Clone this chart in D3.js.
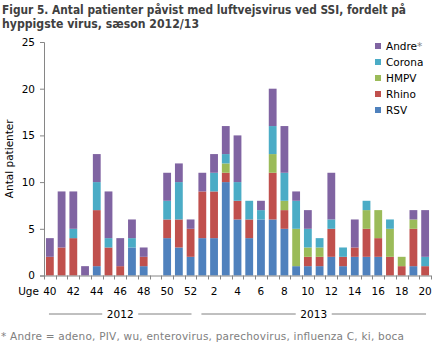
<!DOCTYPE html>
<html>
<head>
<meta charset="utf-8">
<script src="https://cdn.jsdelivr.net/npm/d3@7"></script>
<style>
  body { margin: 0; background: #fff; }
  svg { font-family: "DejaVu Sans", Verdana, sans-serif; }
</style>
</head>
<body>
<div id="chart"></div>
<script>
const width = 440;
const height = 351;
const margin = {top: 42, right: 9, bottom: 75.5, left: 44};

// weeks of season 2012/13
const weeks = [40, 41, 42, 43, 44, 45, 46, 47, 48, 49, 50, 51, 52,
               1, 2, 3, 4, 5, 6, 7, 8, 9, 10, 11, 12, 13, 14, 15, 16, 17, 18, 19, 20];
const tickWeeks = [40, 42, 44, 46, 48, 50, 52, 2, 4, 6, 8, 10, 12, 14, 16, 18, 20];

const rsv    = [0, 0, 0, 0, 1, 0, 0, 3, 1, 0, 4, 3, 2, 4, 4, 10, 6, 4, 6, 6, 5, 1, 1, 1, 2, 1, 2, 2, 2, 0, 0, 1, 0];
const rhino  = [2, 3, 4, 0, 6, 3, 1, 0, 1, 0, 2, 3, 3, 5, 5, 1, 2, 2, 0, 5, 2, 0, 1, 1, 3, 1, 1, 3, 2, 2, 1, 4, 1];
const hmpv   = [0, 0, 0, 0, 0, 0, 0, 0, 0, 0, 0, 0, 0, 0, 0, 1, 0, 0, 0, 2, 1, 4, 1, 1, 0, 0, 0, 2, 3, 3, 1, 1, 0];
const corona = [0, 0, 1, 0, 3, 1, 0, 1, 0, 0, 2, 4, 0, 0, 2, 1, 2, 2, 1, 3, 3, 3, 2, 1, 1, 1, 0, 1, 0, 1, 0, 0, 1];
const andre  = [2, 6, 4, 1, 3, 5, 3, 2, 1, 0, 3, 2, 1, 2, 2, 3, 5, 0, 1, 4, 5, 1, 2, 0, 5, 0, 3, 0, 0, 0, 0, 1, 5];

const seriesNames = ["RSV", "Rhino", "HMPV", "Corona", "Andre*"];
const seriesValues = [rsv, rhino, hmpv, corona, andre];
const colors = ["#4F81BD", "#C0504D", "#9BBB59", "#4BACC6", "#8064A2"];

const years = [
  {label: "2012", from: 40, to: 52},
  {label: "2013", from: 1, to: 20}
];

const table = weeks.map((w, i) => {
  const row = {week: w};
  seriesNames.forEach((s, j) => row[s] = seriesValues[j][i]);
  return row;
});

const svg = d3.select("#chart")
  .append("svg")
  .attr("width", width)
  .attr("height", height);

// title, squeezed to the width it has in the original
svg.append("text")
  .attr("x", 2).attr("y", 14)
  .attr("font-size", "11.5px").attr("font-weight", "bold").attr("fill", "#404040")
  .attr("textLength", 404).attr("lengthAdjust", "spacingAndGlyphs")
  .text("Figur 5. Antal patienter påvist med luftvejsvirus ved SSI, fordelt på");
svg.append("text")
  .attr("x", 2).attr("y", 28)
  .attr("font-size", "11.5px").attr("font-weight", "bold").attr("fill", "#404040")
  .attr("textLength", 197).attr("lengthAdjust", "spacingAndGlyphs")
  .text("hyppigste virus, sæson 2012/13");

const x = d3.scaleBand()
  .domain(weeks)
  .range([margin.left, width - margin.right])
  .paddingInner(1 / 3)
  .paddingOuter(1 / 6);

const y = d3.scaleLinear()
  .domain([0, 25])
  .range([height - margin.bottom, margin.top]);

const stack = d3.stack().keys(seriesNames);
const layers = stack(table);

svg.append("g")
  .selectAll("g")
  .data(layers)
  .enter()
  .append("g")
  .attr("fill", (d, i) => colors[i])
  .selectAll("rect")
  .data(d => d)
  .enter()
  .append("rect")
  .attr("x", d => x(d.data.week))
  .attr("y", d => y(d[1]))
  .attr("width", x.bandwidth())
  .attr("height", d => y(d[0]) - y(d[1]));

const axisColor = "#868686";

// y axis
const yAxis = svg.append("g")
  .attr("transform", "translate(" + margin.left + ",0)")
  .call(d3.axisLeft(y).tickValues([0, 5, 10, 15, 20, 25]).tickSize(4).tickPadding(5));
yAxis.select(".domain").attr("stroke", axisColor);
yAxis.selectAll(".tick line").attr("stroke", axisColor);
yAxis.selectAll("text").attr("font-size", "10.5px").attr("fill", "#000")
  .attr("font-family", "DejaVu Sans, sans-serif");

svg.append("text")
  .attr("transform", "translate(13," + (y(12.5)) + ") rotate(-90)")
  .attr("text-anchor", "middle")
  .attr("font-size", "10.5px")
  .text("Antal patienter");

// x axis: line, boundary ticks and labels
const step = x.step();
const y0 = y(0);
svg.append("line")
  .attr("x1", margin.left).attr("x2", width - margin.right)
  .attr("y1", y0 + 0.5).attr("y2", y0 + 0.5)
  .attr("stroke", axisColor);
svg.append("g")
  .selectAll("line")
  .data(d3.range(weeks.length + 1))
  .enter()
  .append("line")
  .attr("x1", i => Math.round(margin.left + i * step) + 0.5)
  .attr("x2", i => Math.round(margin.left + i * step) + 0.5)
  .attr("y1", y0)
  .attr("y2", y0 + 4)
  .attr("stroke", axisColor);

svg.append("g")
  .selectAll("text")
  .data(tickWeeks)
  .enter()
  .append("text")
  .attr("x", d => x(d) + x.bandwidth() / 2)
  .attr("y", y0 + 19)
  .attr("text-anchor", "middle")
  .attr("font-size", "10.5px")
  .text(d => d);

svg.append("text")
  .attr("x", 39).attr("y", y0 + 19)
  .attr("text-anchor", "end")
  .attr("font-size", "10.5px")
  .text("Uge");

// year brackets
years.forEach(yr => {
  const x1 = x(yr.from);
  const x2 = x(yr.to) + x.bandwidth();
  const cx = (x1 + x2) / 2;
  const ly = y0 + 38;
  svg.append("text")
    .attr("x", cx).attr("y", ly + 4)
    .attr("text-anchor", "middle")
    .attr("font-size", "10.5px")
    .text(yr.label);
  svg.append("line")
    .attr("x1", x1 + 3).attr("x2", cx - 18)
    .attr("y1", ly + 0.5).attr("y2", ly + 0.5)
    .attr("stroke", "#808080");
  svg.append("line")
    .attr("x1", cx + 18).attr("x2", x2 - 3)
    .attr("y1", ly + 0.5).attr("y2", ly + 0.5)
    .attr("stroke", "#808080");
});

// legend (top to bottom: Andre first)
const legendItems = seriesNames.map((s, i) => ({name: s, color: colors[i]})).reverse();
const legend = svg.append("g")
  .selectAll("g")
  .data(legendItems)
  .enter()
  .append("g")
  .attr("transform", (d, i) => "translate(375," + (46 + i * 16) + ")");
legend.append("rect")
  .attr("x", 0).attr("y", -3)
  .attr("width", 6).attr("height", 6)
  .attr("fill", d => d.color);
legend.append("text")
  .attr("x", 11).attr("y", 4)
  .attr("font-size", "10.5px")
  .text(d => d.name.replace("*", ""))
  .append("tspan")
  .attr("fill", "#808080")
  .text(d => d.name.indexOf("*") >= 0 ? "*" : "");

// footnote
svg.append("text")
  .attr("x", 1).attr("y", 340)
  .attr("font-size", "10.5px")
  .attr("fill", "#808080")
  .attr("textLength", 403).attr("lengthAdjust", "spacing")
  .text("* Andre = adeno, PIV, wu, enterovirus, parechovirus, influenza C, ki, boca");
</script>
</body>
</html>
